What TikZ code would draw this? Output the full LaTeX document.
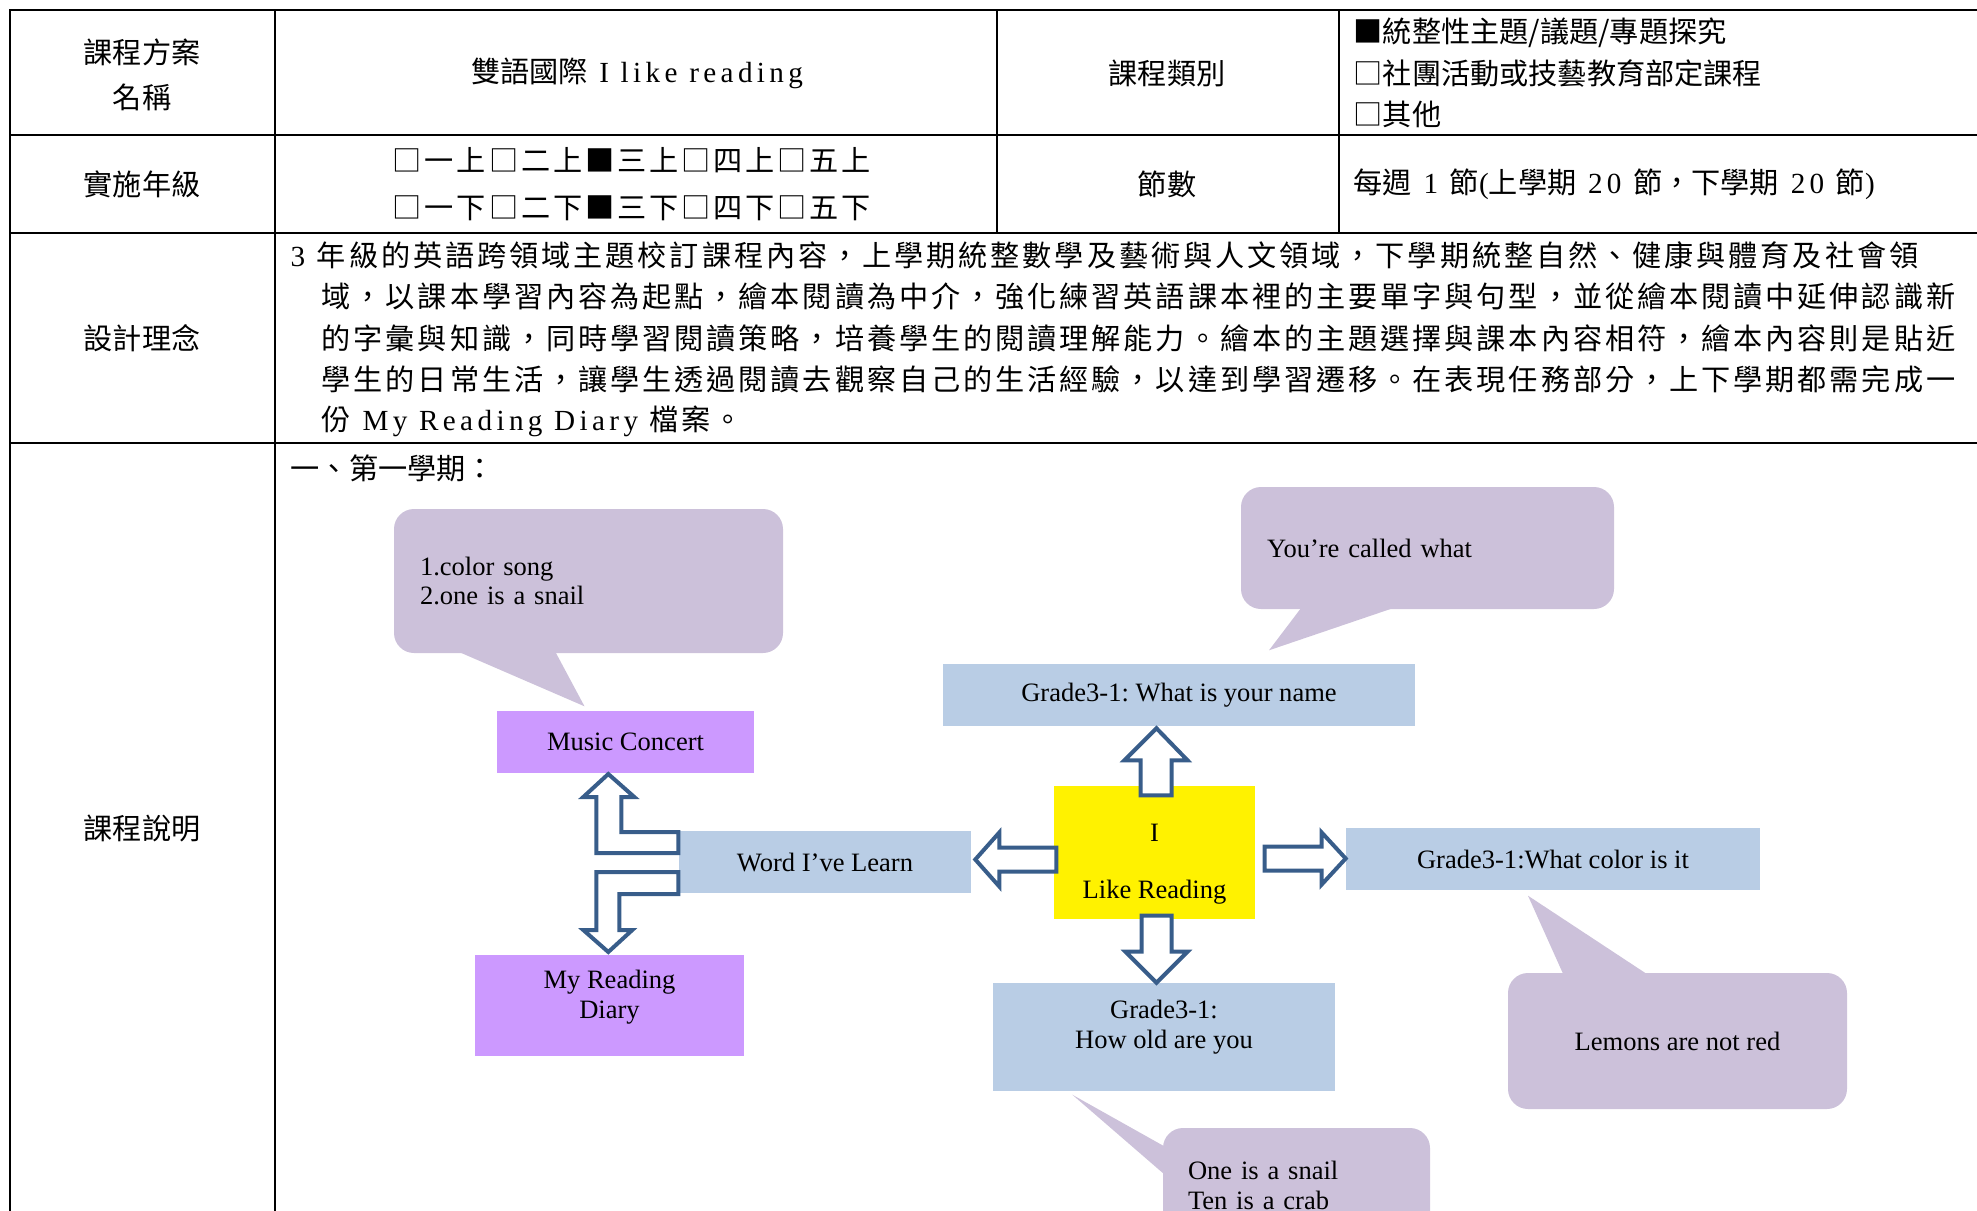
\documentclass[tikz,border=0pt]{standalone}
\usepackage{fontspec}
\setmainfont{Liberation Serif}
\newfontfamily\cjk{Noto Sans CJK TC}
\newfontfamily\cjkwide[LetterSpace=10]{Noto Sans CJK TC}
\newfontfamily\latwide[LetterSpace=15]{Liberation Serif}
\usetikzlibrary{calc}
\definecolor{boxblue}{RGB}{185,205,229}
\definecolor{boxpurple}{RGB}{204,153,255}
\definecolor{bubble}{RGB}{204,193,218}
\definecolor{arrowblue}{RGB}{56,93,138}
\newcommand\tabfont{\fontsize{8.3}{11.8}\selectfont}
\newcommand\diafont{\fontsize{7.55}{8.5}\selectfont\frenchspacing}
\tikzset{
  rule/.style={line width=.27mm, line cap=rect},
  cell/.style={font=\tabfont\cjk, inner sep=0, align=center},
  widecell/.style={font=\tabfont\cjkwide, inner sep=0},
  box/.style={fill=#1, inner sep=0, align=center, font=\diafont},
  diatext/.style={inner sep=0, align=center, font=\diafont},
  speech/.style={fill=bubble, rounded corners=2mm, inner xsep=2.6mm, inner ysep=0, align=left, font=\diafont},
  blockarrow/.style={draw=arrowblue, fill=white, line width=.4mm, line join=miter}
}
\begin{document}
\begin{tikzpicture}[x=.1mm,y=-.1mm]
\useasboundingbox (0,0) rectangle (1977,1211);
\clip (0,0) rectangle (1977,1211);
% table rules
\draw[rule] (10,10) -- (1990,10);
\draw[rule] (10,135) -- (1990,135);
\draw[rule] (10,233) -- (1990,233);
\draw[rule] (10,443) -- (1990,443);
\draw[rule] (10,10) -- (10,1230);
\draw[rule] (275,10) -- (275,1230);
\draw[rule] (997,10) -- (997,233);
\draw[rule] (1339,10) -- (1339,233);
% table texts
\node[cell] (plan) at (142,74.5) {課程方案\\[.35mm]名稱};
\node[cell] (title) at (637,73) {雙語國際{\latwide\ I like reading}};
\node[cell] (typehead) at (1167,73) {課程類別};
\node[cell, anchor=west] (type1) at (1353,33) {■統整性主題/議題/專題探究};
\node[cell, anchor=west] (type2) at (1353,73.5) {□社團活動或技藝教育部定課程};
\node[cell, anchor=west] (type3) at (1353,114) {□其他};
\node[cell] (gradehead) at (142,184) {實施年級};
\node[widecell] (grade1) at (632,160) {□一上□二上■三上□四上□五上};
\node[widecell] (grade2) at (632,208) {□一下□二下■三下□四下□五下};
\node[cell] (periodhead) at (1167,184) {節數};
\node[cell, anchor=west] (period) at (1353,184) {每週{\latwide\ 1\ }節{\latwide(}上學期{\latwide\ 20\ }節，下學期{\latwide\ 20\ }節{\latwide)}};
\node[cell] (ideahead) at (142,338) {設計理念};
\node[widecell, anchor=west] (idea1) at (290,255) {{\latwide 3\ }年級的英語跨領域主題校訂課程內容，上學期統整數學及藝術與人文領域，下學期統整自然、健康與體育及社會領};
\node[widecell, anchor=west] (idea2) at (321,296.5) {域，以課本學習內容為起點，繪本閱讀為中介，強化練習英語課本裡的主要單字與句型，並從繪本閱讀中延伸認識新};
\node[widecell, anchor=west] (idea3) at (321,338) {的字彙與知識，同時學習閱讀策略，培養學生的閱讀理解能力。繪本的主題選擇與課本內容相符，繪本內容則是貼近};
\node[widecell, anchor=west] (idea4) at (321,379.5) {學生的日常生活，讓學生透過閱讀去觀察自己的生活經驗，以達到學習遷移。在表現任務部分，上下學期都需完成一};
\node[widecell, anchor=west] (idea5) at (321,421) {份{\latwide\ My Reading Diary\ }檔案。};
\node[cell] (notehead) at (142,828) {課程說明};
\node[cell, anchor=west] (term1) at (290,468) {一、第一學期：};
% boxes
\node[box=boxpurple, minimum width=25.7mm, minimum height=6.2mm] (music) at (625.5,742) {Music Concert};
\node[box=boxpurple, minimum width=26.9mm, minimum height=10.1mm] (diary) at (609.5,1005.5) {};
\node[diatext] (diarytext) at ($(diary)+(0,-8)$) {My Reading\\Diary};
\node[box=boxblue, minimum width=29.2mm, minimum height=6.2mm] (word) at (825,862) {Word I've Learn};
\node[box=yellow, minimum width=20.1mm, minimum height=13.3mm] (ilike) at (1154.5,852.5) {};
\node[diatext] (iliketext) at ($(ilike)+(0,12)$) {I\\[2.7mm]Like Reading};
\node[box=boxblue, minimum width=47.2mm, minimum height=6.2mm] (name) at (1179,695) {Grade3-1: What is your name};
\node[box=boxblue, minimum width=41.4mm, minimum height=6.2mm] (color) at (1553,859) {Grade3-1:What color is it};
\node[box=boxblue, minimum width=34.2mm, minimum height=10.8mm] (howold) at (1164,1037) {};
\node[diatext] (howoldtext) at ($(howold)+(0,-10)$) {Grade3-1:\\How old are you};
% callouts
\node[speech, minimum width=38.9mm, minimum height=14.4mm, text width=33.7mm] (songs) at (588.5,581) {1.color song\\2.one is a snail};
\fill[bubble] ($(songs.south west)+(65,-2)$) -- ($(music.north)+(-41,-4)$) -- ($(songs.south west)+(162,-2)$) -- cycle;
\node[speech, minimum width=37.3mm, minimum height=12.2mm, text width=32.1mm] (called) at (1427.5,548) {You’re called what};
\fill[bubble] ($(called.south west)+(61,-2)$) -- ($(name.north)+(90,-13)$) -- ($(called.south west)+(154,-2)$) -- cycle;
\node[speech, minimum width=33.9mm, minimum height=13.6mm, align=center] (lemons) at (1677.5,1041) {Lemons are not red};
\fill[bubble] ($(lemons.north west)+(56,2)$) -- ($(color.south)+(-25,5)$) -- ($(lemons.north west)+(140,2)$) -- cycle;
\node[speech, minimum width=26.7mm, minimum height=11.4mm, inner xsep=2.5mm, text width=21.7mm] (snail) at (1296.5,1185) {One is a snail\\Ten is a crab};
\fill[bubble] ($(snail.north west)+(2,19)$) -- ($(howold.south west)+(80,3)$) -- ($(snail.north west)+(2,47)$) -- cycle;
% block arrows
\draw[blockarrow, shift={(ilike.north)}] (-14,10) -- (-14,-25) -- (-30,-25) -- (2,-57) -- (33,-25) -- (17,-25) -- (17,10) -- cycle;
\draw[blockarrow, shift={(ilike.south)}] (-13,-4) -- (-13,32) -- (-29,32) -- (2,63) -- (33,32) -- (17,32) -- (17,-4) -- cycle;
\draw[blockarrow, shift={(ilike.west)}] (3,-5) -- (-54,-5) -- (-54,-20) -- (-78,7) -- (-54,34) -- (-54,19) -- (3,19) -- cycle;
\draw[blockarrow, shift={(ilike.east)}] (9,-6) -- (66,-6) -- (66,-20) -- (90,6) -- (66,32) -- (66,18) -- (9,18) -- cycle;
\draw[blockarrow, shift={(word.west)}] (0,-30) -- (-57,-30) -- (-57,-65) -- (-44,-65) -- (-70,-88) -- (-95,-65) -- (-82,-65) -- (-82,-9) -- (0,-9) -- cycle;
\draw[blockarrow, shift={(word.west)}] (0,10) -- (-82,10) -- (-82,68) -- (-95,68) -- (-70,90) -- (-46,68) -- (-59,68) -- (-59,32) -- (0,32) -- cycle;
\end{tikzpicture}
\end{document}
